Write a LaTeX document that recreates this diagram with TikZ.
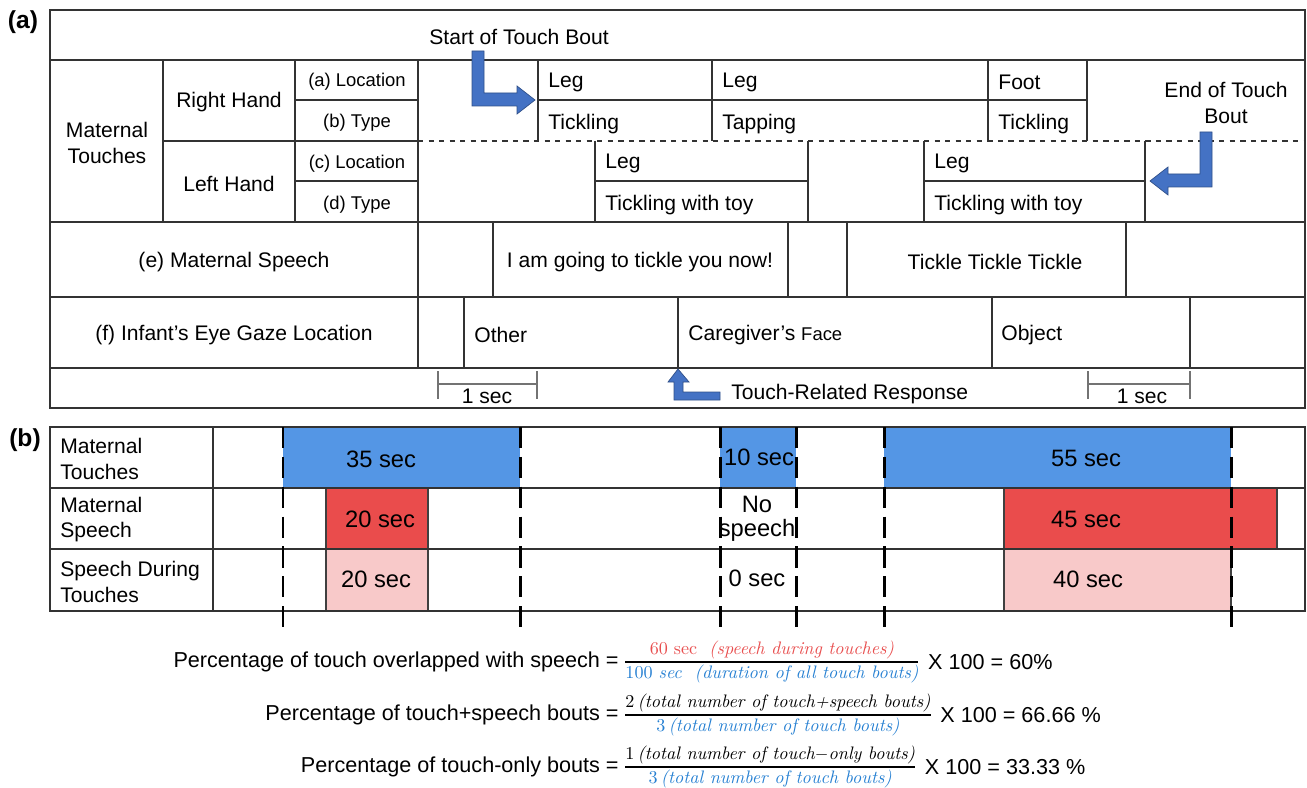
\documentclass[tikz,border=0pt]{standalone}
\usepackage[no-math]{fontspec}
\setsansfont{Liberation Sans}
\renewcommand{\familydefault}{\sfdefault}
\usepackage{amsmath}
\usetikzlibrary{positioning,calc}
\definecolor{arrowblue}{RGB}{68,114,196}
\definecolor{barblue}{RGB}{84,150,229}
\definecolor{barred}{RGB}{234,76,76}
\definecolor{barpink}{RGB}{248,201,201}
\definecolor{numred}{RGB}{232,78,78}
\definecolor{denblue}{RGB}{38,128,210}
\newcommand{\fr}[1]{\mbox{\rmfamily\itshape\fontsize{10.3}{12}\selectfont #1}}

\begin{document}
\begin{tikzpicture}[x=0.02cm, y=-0.02cm,
  grid/.style={draw=black!80, line width=0.8pt},
  txt/.style={inner sep=0pt, yshift=-1pt, font=\fontsize{12}{14.5}\selectfont},
  sml/.style={inner sep=0pt, yshift=-1pt, font=\fontsize{10.5}{12.5}\selectfont},
  big/.style={inner sep=0pt, yshift=-1pt, font=\fontsize{13.5}{14}\selectfont},
  eqn/.style={inner sep=0pt, font=\fontsize{12.3}{14.5}\selectfont},
  panel/.style={inner sep=0pt, font=\bfseries\fontsize{14}{16}\selectfont},
  blockarrow/.style={fill=arrowblue, draw=arrowblue!70!black, line width=0.4pt},
  bar/.style={draw=black!75, line width=0.6pt},
  sep/.style={line width=1.7pt, dash pattern=on 12pt off 5pt},
  scalebar/.style={draw=black!55, line width=0.7pt}]
\useasboundingbox (0,0) rectangle (1307,787);

% panel (a): the coding grid
\node[panel] (labA) at (23,22) {(a)};
\draw[grid] (50,10) rectangle (1305,408);
\draw[grid] (50,60) -- (1305,60);
\draw[grid] (50,222) -- (1305,222);
\draw[grid] (50,297) -- (1305,297);
\draw[grid] (50,368) -- (1305,368);
\draw[grid] (163,60) -- (163,222);
\draw[grid] (295,60) -- (295,222);
\draw[grid] (418,60) -- (418,368);
\draw[grid] (295,100) -- (418,100);
\draw[grid] (163,141) -- (418,141);
\draw[grid] (295,181) -- (418,181);
\draw[grid, dashed] (418,141) -- (1305,141);

\node[txt, align=center] (mt) at (107,141) {Maternal\\Touches};
\node[txt] (rh) at (229,100) {Right Hand};
\node[txt] (lh) at (229,182) {Left Hand};
\node[sml] (locA) at (357,80) {(a) Location};
\node[sml] (typB) at (357,121) {(b) Type};
\node[sml] (locC) at (357,162) {(c) Location};
\node[sml] (typD) at (357,203) {(d) Type};

% right hand codes
\foreach \x in {538,712,988,1087}
  \draw[grid] (\x,60) -- (\x,141);
\draw[grid] (538,100) -- (1087,100);
\node[txt, anchor=west] (rleg1) at (548,81) {Leg};
\node[txt, anchor=west] (rtick1) at (548,122) {Tickling};
\node[txt, anchor=west] (rleg2) at (722,81) {Leg};
\node[txt, anchor=west] (rtap) at (722,122) {Tapping};
\node[txt, anchor=west] (rfoot) at (998,81) {Foot};
\node[txt, anchor=west] (rtick2) at (998,122) {Tickling};

% left hand codes
\foreach \x in {595,808,924,1145}
  \draw[grid] (\x,141) -- (\x,222);
\draw[grid] (595,181) -- (808,181);
\draw[grid] (924,181) -- (1145,181);
\node[txt, anchor=west] (lleg1) at (605,162) {Leg};
\node[txt, anchor=west] (ltoy1) at (605,203) {Tickling with toy};
\node[txt, anchor=west] (lleg2) at (934,162) {Leg};
\node[txt, anchor=west] (ltoy2) at (934,203) {Tickling with toy};

% speech and gaze rows
\foreach \x in {493,788,847,1126}
  \draw[grid] (\x,222) -- (\x,297);
\foreach \x in {464,678,992,1190}
  \draw[grid] (\x,297) -- (\x,368);
\node[txt] (spE) at (234,260) {(e) Maternal Speech};
\node[txt] (sp1) at (640,260) {I am going to tickle you now!};
\node[txt] (sp2) at (995,260) {Tickle Tickle Tickle};
\node[txt] (gzF) at (234,333) {(f) Infant’s Eye Gaze Location};
\node[txt, anchor=west] (gzOther) at (474,333) {Other};
\node[txt, anchor=west] (gzFace) at (688,333) {Caregiver’s {\fontsize{10.5}{12}\selectfont Face}};
\node[txt, anchor=west] (gzObj) at (1001,333) {Object};

% one second scale bars
\draw[scalebar] (438,371) -- (438,399) (438,384) -- (537,384) (537,371) -- (537,399);
\draw[scalebar] (1088,371) -- (1088,399) (1088,384) -- (1190,384) (1190,371) -- (1190,399);
\node[txt] (sec1) at (487,395) {1 sec};
\node[txt] (sec2) at (1142,395) {1 sec};

% block arrows
\node[txt, anchor=west] (start) at (429,35) {Start of Touch Bout};
\draw[blockarrow] (472,51) -- (484,51) -- (484,93) -- (517,93) -- (517,86) -- (535,100)
  -- (517,114) -- (517,106) -- (472,106) -- cycle;
\node[txt, align=center] (endb) at (1226,101) {End of Touch\\Bout};
\draw[blockarrow] (1212,132) -- (1200,132) -- (1200,174) -- (1168,174) -- (1168,167) -- (1150,181)
  -- (1168,195) -- (1168,187) -- (1212,187) -- cycle;
\node[txt, anchor=west] (tresp) at (731,392) {Touch-Related Response};
\draw[blockarrow] (678,369) -- (689,382) -- (683,382) -- (683,392) -- (720,392) -- (720,400)
  -- (674,400) -- (674,382) -- (668,382) -- cycle;

% panel (b): bouts
\node[panel] (labB) at (25,440) {(b)};
\fill[barblue] (283,427) rectangle (520,488);
\fill[barblue] (720,427) rectangle (796,488);
\fill[barblue] (884,427) rectangle (1231,488);
\draw[bar, fill=barred] (326,488) rectangle (428,549);
\draw[bar, fill=barred] (1004,488) rectangle (1277,549);
\draw[bar, fill=barpink] (326,549) rectangle (428,611);
\draw[bar, fill=barpink] (1004,549) rectangle (1231,611);
\draw[grid] (50,427) rectangle (1305,611);
\draw[grid] (50,488) -- (1305,488);
\draw[grid] (50,549) -- (1305,549);
\draw[grid] (213,427) -- (213,611);
\foreach \x in {283,520,720,796,884,1231}
  \draw[sep] (\x,427) -- (\x,632);

\node[txt, anchor=west, align=left] (bMT) at (60,457) {Maternal\\Touches};
\node[txt, anchor=west, align=left] (bMS) at (60,518) {Maternal\\Speech};
\node[txt, anchor=west, align=left] (bSD) at (60,580) {Speech During\\Touches};
\node[big] (t35) at (381,458) {35 sec};
\node[big] (t10) at (759,456) {10 sec};
\node[big] (t55) at (1086,457) {55 sec};
\node[big] (s20) at (380,518) {20 sec};
\node[big, align=center] (snone) at (757,517) {No\\speech};
\node[big] (s45) at (1086,518) {45 sec};
\node[big] (d20) at (376,578) {20 sec};
\node[big] (d0) at (757,577) {0 sec};
\node[big] (d40) at (1088,578) {40 sec};

% percentages
\node[eqn, anchor=east] (p1) at (619,662) {Percentage of touch overlapped with speech =};
\node[anchor=west, inner sep=0pt] (f1) at (623,662) {$\genfrac{}{}{1pt}{}%
  {\textcolor{numred}{\fr{\upshape 60 sec\ \ \itshape(speech during touches)}}}%
  {\textcolor{denblue}{\fr{\upshape 100\ \itshape sec\ \ (duration of all touch bouts)}}}$};
\node[eqn, right=4pt of f1] (r1) {X 100 = 60\%};
\node[eqn, anchor=east] (p2) at (619,715) {Percentage of touch+speech bouts =};
\node[anchor=west, inner sep=0pt] (f2) at (623,715) {$\genfrac{}{}{1pt}{}%
  {\fr{\upshape 2\,\itshape(total number of touch+speech bouts)}}%
  {\textcolor{denblue}{\fr{\upshape 3\,\itshape(total number of touch bouts)}}}$};
\node[eqn, right=4pt of f2] (r2) {X 100 = 66.66 \%};
\node[eqn, anchor=east] (p3) at (619,767) {Percentage of touch-only bouts =};
\node[anchor=west, inner sep=0pt] (f3) at (623,767) {$\genfrac{}{}{1pt}{}%
  {\fr{\upshape 1\,\itshape(total number of touch$-$only bouts)}}%
  {\textcolor{denblue}{\fr{\upshape 3\,\itshape(total number of touch bouts)}}}$};
\node[eqn, right=4pt of f3] (r3) {X 100 = 33.33 \%};
\end{tikzpicture}
\end{document}
